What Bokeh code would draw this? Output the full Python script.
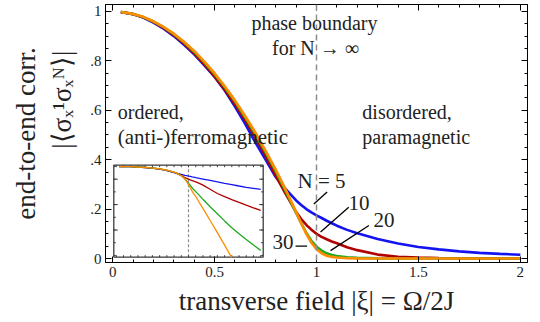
import numpy as np
from bokeh.plotting import figure
from bokeh.models import Range1d, LogScale, LinearAxis, FixedTicker, Span, Label
from bokeh.embed import file_html
from bokeh.resources import INLINE

# transverse field |xi| = Omega / 2J
xi = [0.04, 0.1, 0.15, 0.2, 0.25, 0.3, 0.35, 0.4, 0.45, 0.5, 0.55, 0.6, 0.65, 0.7,
      0.75, 0.8, 0.85, 0.9, 0.925, 0.95, 0.975, 1.0, 1.025, 1.05, 1.075, 1.1,
      1.15, 1.2, 1.3, 1.4, 1.5, 1.6, 1.7, 1.8, 1.9, 2.0]

# end-to-end correlation |<sigma_x^1 sigma_x^N>| for chain lengths N
corr_n5 = [0.998, 0.989, 0.975, 0.955, 0.930, 0.900, 0.865, 0.826, 0.782, 0.735,
           0.680, 0.615, 0.545, 0.470, 0.400, 0.330, 0.280, 0.235, 0.217, 0.200,
           0.187, 0.175, 0.164, 0.153, 0.143, 0.133, 0.116, 0.102, 0.079, 0.061,
           0.047, 0.037, 0.029, 0.023, 0.019, 0.0155]
corr_n10 = [0.998, 0.989, 0.976, 0.957, 0.933, 0.904, 0.870, 0.830, 0.786, 0.737,
            0.683, 0.624, 0.560, 0.490, 0.415, 0.335, 0.260, 0.188, 0.160, 0.136,
            0.117, 0.100, 0.088, 0.078, 0.069, 0.062, 0.046, 0.034, 0.016, 0.0075,
            0.0042, 0.0025, 0.0015, 9.1e-4, 5.6e-4, 3.5e-4]
corr_n20 = [0.998, 0.990, 0.977, 0.959, 0.936, 0.908, 0.875, 0.837, 0.794, 0.746,
            0.693, 0.635, 0.571, 0.503, 0.430, 0.353, 0.270, 0.185, 0.143, 0.104,
            0.072, 0.048, 0.032, 0.021, 0.0145, 0.0105, 0.0053, 0.0026, 6.8e-4,
            1.9e-4, 5.2e-5, 1.5e-5, 5.0e-6, 1.8e-6, 6.5e-7, 2.5e-7]
corr_n30 = [0.998, 0.990, 0.978, 0.960, 0.937, 0.910, 0.877, 0.840, 0.797, 0.750,
            0.697, 0.640, 0.577, 0.510, 0.437, 0.360, 0.277, 0.188, 0.143, 0.100,
            0.064, 0.038, 0.021, 0.0115, 0.0066, 0.0044, 0.00145, 5.0e-4, 5.6e-5,
            6.3e-6, 6.5e-7, 6.5e-8, 7e-9, 8e-10, 9e-11, 1e-11]

series = [("N=5", corr_n5, "#1414f0"), ("N=10", corr_n10, "#b00000"),
          ("N=20", corr_n20, "#1fa81f"), ("N=30", corr_n30, "#ff8c00")]

x_ticks = [0, 0.5, 1, 1.5, 2]
x_tick_labels = ["0", "0.5", "1", "1.5", "2"]
y_ticks = [0, 0.2, 0.4, 0.6, 0.8, 1.0]
y_tick_labels = ["0", ".2", ".4", ".6", ".8", "1"]

FONT = "Liberation Serif"

W, H = 540, 322
FL, FR, FT, FB = 105, 13, 4, 60          # frame borders in pixels
FW, FH = W - FL - FR, H - FT - FB

p = figure(width=W, height=H, output_backend="svg", toolbar_location=None,
           x_range=Range1d(-0.035, 2.035), y_range=Range1d(-0.016, 1.028),
           min_border_left=FL, min_border_right=FR, min_border_top=FT,
           min_border_bottom=FB, background_fill_color="white",
           border_fill_color="white")
p.grid.visible = False
p.outline_line_color = "black"
p.outline_line_width = 1

x_ticker = FixedTicker(ticks=x_ticks, minor_ticks=[round(0.1 * i, 2) for i in range(21)])
y_ticker = FixedTicker(ticks=y_ticks, minor_ticks=[round(0.05 * i, 2) for i in range(21)])

p.xaxis.ticker = x_ticker
p.yaxis.ticker = y_ticker
p.xaxis.major_label_overrides = {t: s for t, s in zip(x_ticks, x_tick_labels)}
p.yaxis.major_label_overrides = {t: s for t, s in zip(y_ticks, y_tick_labels)}

NBSP = "\u00a0"
p.xaxis.axis_label = "transverse field |ξ| = Ω/2J"
p.xaxis.axis_label_standoff = 6
p.yaxis.axis_label = "end-to-end corr.\n" + NBSP * 10 + "|⟨σₓ¹σₓᴺ⟩|"
p.yaxis.axis_label_standoff = 10
for ax in (p.xaxis[0], p.yaxis[0]):
    ax.axis_label_text_font = FONT
    ax.axis_label_text_font_size = "27px"
    ax.axis_label_text_font_style = "normal"
    ax.axis_label_text_color = "#222222"
    ax.major_label_text_font = FONT
    ax.major_label_text_font_size = "15px"
    ax.major_label_text_color = "#222222"
    ax.major_label_standoff = 4

# mirrored axes on top and right without labels
p.add_layout(LinearAxis(ticker=x_ticker, major_label_text_font_size="0px",
                        major_label_standoff=0), "above")
p.add_layout(LinearAxis(ticker=y_ticker, major_label_text_font_size="0px",
                        major_label_standoff=0), "right")
for ax in p.axis:
    ax.major_tick_in = 6
    ax.major_tick_out = 0
    ax.minor_tick_in = 3
    ax.minor_tick_out = 0
    ax.axis_line_color = "black"
    ax.major_tick_line_color = "black"
    ax.minor_tick_line_color = "black"

# phase boundary for N -> infinity
p.add_layout(Span(location=1.0, dimension="height", line_color="#8c8c8c",
                  line_dash="6 4", line_width=1.5))

for name, vals, col in series:
    p.line(xi, vals, line_color=col, line_width=2.6)

# ---- inset: same curves on a logarithmic scale ----
INS_L, INS_R, INS_T, INS_B = 113.3, 262.7, 164.7, 256.7   # inset box, pixels
ins_x0, ins_x1 = -0.035, 2.035
ins_lg0, ins_lg1 = -7.14, 0.1
xpp = (ins_x1 - ins_x0) / (INS_R - INS_L)
ins_xs = ins_x0 - (INS_L - FL) * xpp
ins_xe = ins_xs + FW * xpp
dpp = (ins_lg1 - ins_lg0) / (INS_B - INS_T)
ins_top = ins_lg1 + (INS_T - FT) * dpp
ins_bot = ins_lg0 - (FT + FH - INS_B) * dpp
p.extra_x_ranges = {"ix": Range1d(ins_xs, ins_xe)}
p.extra_y_ranges = {"iy": Range1d(10 ** ins_bot, 10 ** ins_top)}
p.extra_y_scales = {"iy": LogScale()}
kw = dict(x_range_name="ix", y_range_name="iy")

p.quad(left=[ins_x0], right=[ins_x1], bottom=[10 ** ins_lg0], top=[10 ** ins_lg1],
       fill_color="white", line_color="#3a3a3a", line_width=1.3, **kw)
p.segment(x0=[1.0], x1=[1.0], y0=[10 ** ins_lg0], y1=[10 ** ins_lg1],
          line_color="#8c8c8c", line_dash="3 2", line_width=1.2, **kw)

# inset tick marks
bx = [round(0.1 * i, 2) for i in range(21)]
p.ray(x=bx, y=[10 ** ins_lg0] * len(bx), length=2, length_units="screen",
      angle=np.pi / 2, line_color="#3a3a3a", line_width=1, **kw)
p.ray(x=bx, y=[10 ** ins_lg1] * len(bx), length=2, length_units="screen",
      angle=-np.pi / 2, line_color="#3a3a3a", line_width=1, **kw)
dec = [10.0 ** k for k in range(-7, 1)]
dec_major = [10.0 ** k for k in (-1, -3, -5)]
p.ray(x=[ins_x0] * len(dec), y=dec, length=2, length_units="screen", angle=0,
      line_color="#3a3a3a", line_width=1, **kw)
p.ray(x=[ins_x1] * len(dec), y=dec, length=2, length_units="screen", angle=np.pi,
      line_color="#3a3a3a", line_width=1, **kw)
p.ray(x=[ins_x0] * 3, y=dec_major, length=4, length_units="screen", angle=0,
      line_color="#3a3a3a", line_width=1, **kw)
p.ray(x=[ins_x1] * 3, y=dec_major, length=4, length_units="screen", angle=np.pi,
      line_color="#3a3a3a", line_width=1, **kw)

floor = 10 ** -7.3
for name, vals, col in series:
    v = np.array(vals)
    m = v >= floor
    p.line(np.array(xi)[m], v[m], line_color=col, line_width=1.3, **kw)

# ---- labels ----
def txt(x, y, s, size="20px", align="left"):
    p.add_layout(Label(x=x, y=y, text=s, text_font=FONT, text_font_size=size,
                       text_align=align, text_baseline="middle",
                       text_color="#222222"))

txt(0.99, 0.955, "phase boundary", align="center")
txt(0.995, 0.854, "for N → ∞", align="center")
txt(0.025, 0.591, "ordered,")
txt(0.025, 0.490, "(anti-)ferromagnetic", size="21px")
txt(1.225, 0.591, "disordered,")
txt(1.225, 0.490, "paramagnetic")

txt(0.907, 0.312, "N = 5", size="21px")
txt(1.157, 0.223, "10", size="21px")
txt(1.279, 0.154, "20", size="21px")
txt(0.784, 0.065, "30", size="21px")

# leader lines from the N labels to their curves
lead_x0 = [0.987, 1.020, 1.069, 0.897]
lead_y0 = [0.221, 0.107, 0.032, 0.050]
lead_x1 = [1.052, 1.158, 1.257, 0.954]
lead_y1 = [0.269, 0.208, 0.134, 0.050]
p.segment(x0=lead_x0, y0=lead_y0, x1=lead_x1, y1=lead_y1,
          line_color="black", line_width=1.3)

open("out.html", "w").write(file_html(p, INLINE))
